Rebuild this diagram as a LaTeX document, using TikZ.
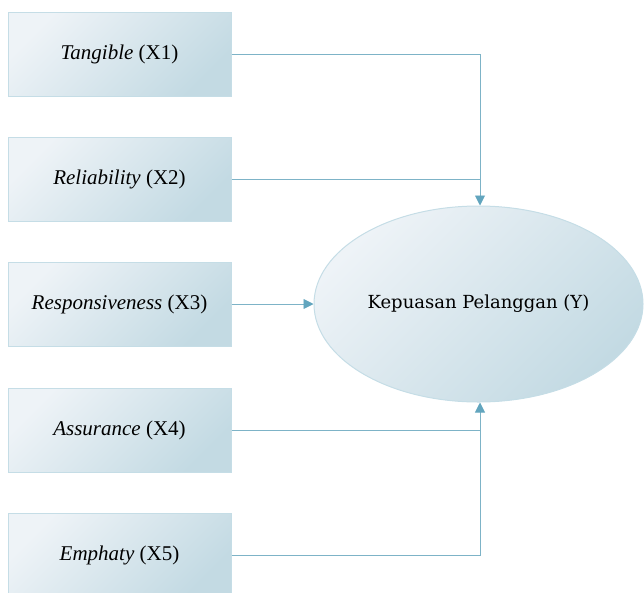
\documentclass[tikz,border=0pt]{standalone}
\usepackage{fontspec}
\setmainfont{Liberation Serif}
\newfontfamily\ellfont{DejaVu Serif}
\usetikzlibrary{arrows.meta,shapes.geometric}
\definecolor{boxlight}{HTML}{EEF3F7}
\definecolor{boxdark}{HTML}{C3DAE3}
\definecolor{boxborder}{HTML}{C5DDE6}
\definecolor{linecol}{HTML}{7DB3C7}
\definecolor{tipcol}{HTML}{62A5BE}
\tikzset{
  varbox/.style={draw=boxborder, line width=1pt, top color=boxlight, bottom color=boxdark, shading angle=45,
    minimum width=223pt, minimum height=84pt, inner sep=0pt, font=\fontsize{21}{25}\selectfont},
  outcome/.style={draw=boxborder, line width=1pt, top color=boxlight, bottom color=boxdark, shading angle=45,
    ellipse, minimum width=329pt, minimum height=196pt, inner sep=0pt, font=\ellfont\fontsize{18}{21}\selectfont},
  conn/.style={draw=linecol, line width=0.9pt},
  arr/.style={conn, -{Triangle[length=10pt, width=10pt, color=tipcol]}}
}
\begin{document}
\begin{tikzpicture}[x=1pt, y=-1pt]
\useasboundingbox (0,0) rectangle (644,592);
\clip (0,0) rectangle (644,592);
\node[varbox] (x1) at (119.5,54) {\textit{Tangible} (X1)};
\node[varbox] (x2) at (119.5,179) {\textit{Reliability} (X2)};
\node[varbox] (x3) at (119.5,304) {\textit{Responsiveness} (X3)};
\node[varbox] (x4) at (119.5,430) {\textit{Assurance} (X4)};
\node[varbox] (x5) at (119.5,555) {\textit{Emphaty} (X5)};
\node[outcome] (y) at (478.5,304) {Kepuasan Pelanggan (Y)};
\coordinate (top) at (480,54);
\coordinate (bot) at (480,555);
\draw[arr] (x1.east) -- (top) -- (y.north -| top);
\draw[conn] (x2.east) -- (x2.east -| top);
\draw[arr] (x3.east) -- (y.west);
\draw[conn] (x4.east) -- (x4.east -| top);
\draw[arr] (x5.east) -- (bot) -- (y.south -| top);
\end{tikzpicture}
\end{document}
